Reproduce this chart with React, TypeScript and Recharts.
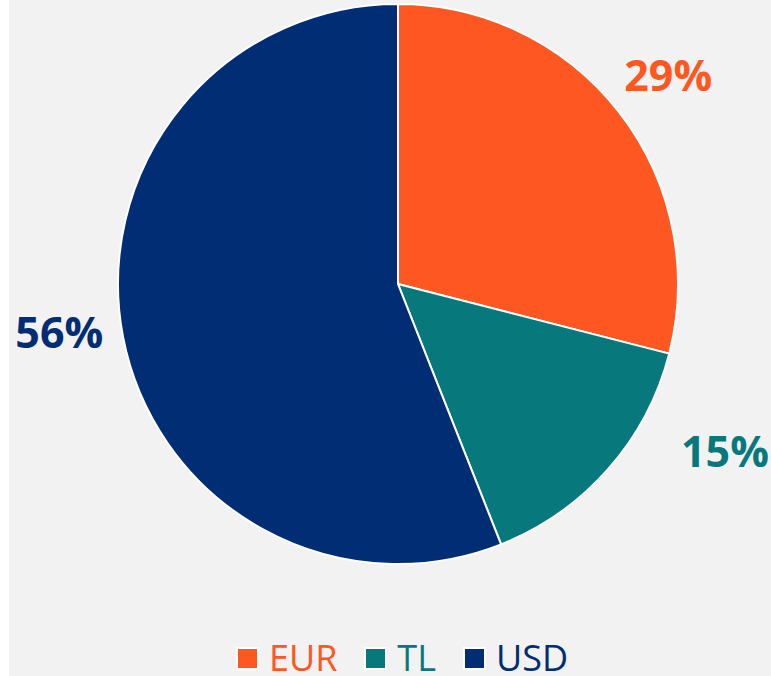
import React from "react";
import { Cell, Legend, Pie, PieChart } from "recharts";

const CURRENCIES = ["EUR", "TL", "USD"];
const SHARES = [29, 15, 56];
const COLORS = ["#FF5722", "#07787C", "#002D74"];

const BG = "#F2F2F2";
const FONT = "'Open Sans', 'DejaVu Sans', sans-serif";
const RAD = Math.PI / 180;

const data = CURRENCIES.map((name, i) => ({ name, value: SHARES[i] }));

// Excel placed the TL label off its mid-angle, so nudge it to match
const LABEL_TWEAK: Record<string, { dr: number; da: number }> = {
  EUR: { dr: 0, da: 0 },
  TL: { dr: 25, da: 14.4 },
  USD: { dr: 0, da: -2.8 },
};

function renderLabel(props: any) {
  const { cx, cy, midAngle, outerRadius, index, value, name } = props;
  const tweak = LABEL_TWEAK[name] ?? { dr: 0, da: 0 };
  const r = outerRadius + 62 + tweak.dr;
  const a = (midAngle + tweak.da) * RAD;
  const x = cx + r * Math.cos(-a);
  const y = cy + r * Math.sin(-a);
  return (
    <text
      x={x}
      y={y}
      fill={COLORS[index]}
      textAnchor="middle"
      dominantBaseline="central"
      style={{ fontFamily: FONT, fontSize: 43, fontWeight: 700 }}
    >
      {`${value}%`}
    </text>
  );
}

function LegendContent({ payload }: any) {
  return (
    <div
      style={{
        display: "flex",
        justifyContent: "center",
        alignItems: "center",
        gap: 27,
        paddingLeft: 24,
        fontFamily: FONT,
        fontSize: 36,
        lineHeight: "36px",
      }}
    >
      {(payload ?? []).map((p: any, i: number) => (
        <div key={p.value} style={{ display: "flex", alignItems: "center", gap: 10 }}>
          <span
            style={{
              display: "inline-block",
              width: 19,
              height: 19,
              background: COLORS[i],
              border: "2px solid #fff",
            }}
          />
          <span style={{ color: COLORS[i] }}>{p.value}</span>
        </div>
      ))}
    </div>
  );
}

export default function App() {
  return (
    <div style={{ position: "absolute", left: 9, top: 0, width: 762, height: 676, background: BG, overflow: "hidden" }}>
      <PieChart width={762} height={676} margin={{ top: 0, right: 0, bottom: 0, left: 0 }}>
        <Pie
          data={data}
          dataKey="value"
          nameKey="name"
          cx={389}
          cy={284}
          outerRadius={280}
          startAngle={90}
          endAngle={-270}
          stroke="#fff"
          strokeWidth={2}
          label={renderLabel}
          labelLine={false}
          isAnimationActive={false}
        >
          {data.map((d, i) => (
            <Cell key={d.name} fill={COLORS[i]} />
          ))}
        </Pie>
        <Legend
          verticalAlign="bottom"
          content={<LegendContent />}
          wrapperStyle={{ top: 640, bottom: "auto", left: 0, width: 762 }}
        />
      </PieChart>
    </div>
  );
}
